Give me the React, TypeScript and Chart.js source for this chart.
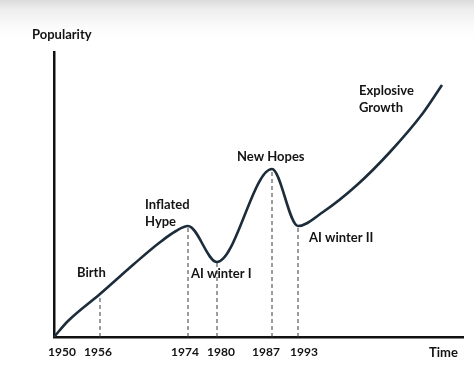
import React, { useEffect, useRef } from 'react';
import { Chart, registerables } from 'chart.js';

Chart.register(...registerables);

// Schematic time axis (position units) and popularity values
const timePositions = [0, 14, 46, 80, 105, 122, 134, 163, 218, 244, 269, 303, 336, 369, 388];
const popularity = [0, 16, 43, 73, 94, 106, 111, 75, 168, 111, 125, 152, 185, 224, 252];

// Dashed marker lines (year, position on time axis, height reached on the curve)
const markerYears = ['1956', '1974', '1980', '1987', '1993'];
const markerTimes = [46, 134, 163, 218, 244];
const markerPopularity = [43, 111, 75, 168, 111];

// X tick labels
const tickLabels = ['1950', '1956', '1974', '1980', '1987', '1993'];
const tickTimes = [8, 44, 131, 167, 212, 250];

// Annotation texts
const annotationTexts = [
  ['Birth'],
  ['Inflated', 'Hype'],
  ['AI winter I'],
  ['New Hopes'],
  ['AI winter II'],
  ['Explosive', 'Growth'],
];

// Layout (kept separate from data)
const annotationAnchors = [
  { x: 23, y: 64 },
  { x: 91, y: 132 },
  { x: 137, y: 63 },
  { x: 183, y: 180 },
  { x: 255, y: 99 },
  { x: 305, y: 246 },
];
const LINE_GAP = 17;
const FONT = 'bold 13px Lato, "Open Sans", sans-serif';

export default function App() {
  const canvasRef = useRef<HTMLCanvasElement | null>(null);

  useEffect(() => {
    document.body.style.margin = '0';
    const canvas = canvasRef.current;
    if (!canvas) return;

    const annotationPlugin = {
      id: 'annotationsText',
      afterDraw(chart: any) {
        const { ctx, scales } = chart;
        const xs = scales.x;
        const ys = scales.y;
        ctx.save();
        ctx.font = FONT;
        ctx.fillStyle = '#141414';
        ctx.textAlign = 'left';
        ctx.textBaseline = 'middle';
        annotationTexts.forEach((lines, i) => {
          const a = annotationAnchors[i];
          const px = xs.getPixelForValue(a.x);
          const py = ys.getPixelForValue(a.y);
          lines.forEach((t, j) => ctx.fillText(t, px, py + j * LINE_GAP));
        });
        // axis titles
        ctx.fillText('Popularity', chart.chartArea.left - 22, chart.chartArea.top - 17);
        ctx.fillText('Time', chart.chartArea.right - 34, chart.chartArea.bottom + 16);
        ctx.restore();
      },
    };

    const datasets: any[] = [
      {
        label: 'Popularity',
        data: timePositions.map((x, i) => ({ x, y: popularity[i] })),
        borderColor: '#1c2c3b',
        borderWidth: 2.6,
        pointRadius: 0,
        cubicInterpolationMode: 'monotone',
        fill: false,
        order: 0,
        clip: false,
      },
      ...markerYears.map((yr, i) => ({
        label: yr,
        data: [
          { x: markerTimes[i], y: 0 },
          { x: markerTimes[i], y: markerPopularity[i] },
        ],
        borderColor: '#3a3a3a',
        borderWidth: 1,
        borderDash: [4, 3],
        pointRadius: 0,
        fill: false,
        order: 1,
      })),
    ];

    const chart = new Chart(canvas, {
      type: 'line',
      data: { datasets },
      plugins: [annotationPlugin],
      options: {
        animation: false,
        responsive: false,
        devicePixelRatio: 1,
        layout: { padding: { left: 54, right: 11, top: 52, bottom: 11 } },
        plugins: { legend: { display: false }, tooltip: { enabled: false } },
        scales: {
          x: {
            type: 'linear',
            min: 0,
            max: 409,
            grid: { display: false, drawTicks: false },
            border: { display: true, color: '#111', width: 2.5 },
            afterBuildTicks: (scale: any) => {
              scale.ticks = tickTimes.map((v) => ({ value: v }));
            },
            afterFit: (scale: any) => {
              scale.height = 22;
            },
            ticks: {
              autoSkip: false,
              maxRotation: 0,
              padding: 8,
              color: '#141414',
              font: { family: 'Lato, "Open Sans", sans-serif', size: 12, weight: 'bold' },
              callback: (value: any) => {
                const i = tickTimes.indexOf(Number(value));
                return i >= 0 ? tickLabels[i] : '';
              },
            },
          },
          y: {
            type: 'linear',
            min: 0,
            max: 285,
            grid: { display: false, drawTicks: false },
            border: { display: true, color: '#111', width: 2.5 },
            ticks: { display: false },
            afterFit: (scale: any) => {
              scale.width = 0;
            },
          },
        },
      },
    });

    return () => chart.destroy();
  }, []);

  return (
    <div
      style={{
        width: 474,
        height: 370,
        background: 'linear-gradient(#dcdcdc 0px, #eeeeee 10px, #fafafa 25px, #ffffff 38px)',
      }}
    >
      <canvas ref={canvasRef} width={474} height={370} style={{ display: 'block' }} />
    </div>
  );
}
